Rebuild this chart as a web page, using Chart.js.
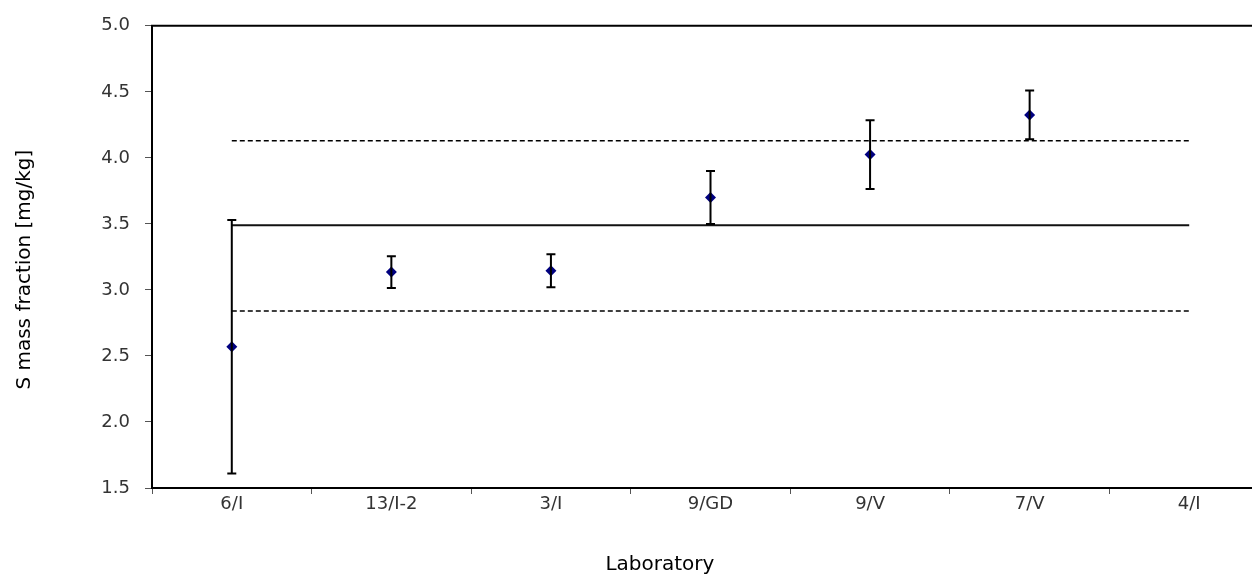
<!DOCTYPE html>
<html>
<head>
<meta charset="utf-8">
<script src="https://cdn.jsdelivr.net/npm/chart.js@4"></script>
<style>
  body { margin: 0; overflow: hidden; background: #fff; }
  #wrap { width: 1280px; height: 579px; }
</style>
</head>
<body>
<div id="wrap"><canvas id="myChart"></canvas></div>
<script>
// data
var labs = ['6/I', '13/I-2', '3/I', '9/GD', '9/V', '7/V', '4/I'];
var values = [2.57, 3.135, 3.145, 3.70, 4.025, 4.325, null];
var uncert = [0.96, 0.12, 0.125, 0.20, 0.26, 0.185, null];
var meanVal = 3.49;
var upperVal = 4.13;
var lowerVal = 2.84;
var yTicks = [1.5, 2.0, 2.5, 3.0, 3.5, 4.0, 4.5, 5.0];

var fontFam = '"DejaVu Sans", sans-serif';

function constLine(v) {
    return labs.map(function () { return v; });
}

// error bars + top frame line
var errorBars = {
    id: 'errorBars',
    afterDatasetsDraw: function (chart) {
        var ctx = chart.ctx;
        var xs = chart.scales.x, ys = chart.scales.y;
        var area = chart.chartArea;
        ctx.save();
        ctx.strokeStyle = '#000';
        ctx.lineWidth = 2;
        ctx.beginPath();
        ctx.moveTo(area.left - 1, area.top);
        ctx.lineTo(area.right, area.top);
        ctx.stroke();
        values.forEach(function (v, i) {
            if (v == null) return;
            var x = xs.getPixelForValue(i);
            var yt = ys.getPixelForValue(v + uncert[i]);
            var yb = ys.getPixelForValue(v - uncert[i]);
            ctx.beginPath();
            ctx.moveTo(x, yt); ctx.lineTo(x, yb);
            ctx.moveTo(x - 4.5, yt); ctx.lineTo(x + 4.5, yt);
            ctx.moveTo(x - 4.5, yb); ctx.lineTo(x + 4.5, yb);
            ctx.stroke();
        });
        ctx.restore();
    }
};

var ctx = document.getElementById('myChart');
var config = {
    type: 'line',
    data: {
        labels: labs,
        datasets: [{
            label: 'upper',
            data: constLine(upperVal),
            borderColor: '#000',
            borderWidth: 1.5,
            borderDash: [5, 3],
            pointRadius: 0
        }, {
            label: 'mean',
            data: constLine(meanVal),
            borderColor: '#111',
            borderWidth: 2,
            pointRadius: 0
        }, {
            label: 'lower',
            data: constLine(lowerVal),
            borderColor: '#000',
            borderWidth: 1.5,
            borderDash: [5, 3],
            pointRadius: 0
        }, {
            label: 'S',
            data: values,
            showLine: false,
            pointStyle: 'rectRot',
            pointRadius: 5.5,
            backgroundColor: '#000080',
            borderColor: '#000080',
            borderWidth: 0,
            order: -1
        }]
    },
    options: {
        responsive: true,
        maintainAspectRatio: false,
        animation: false,
        layout: { padding: { top: 23, right: 11, left: 0, bottom: 0 } },
        plugins: {
            legend: { display: false },
            tooltip: { enabled: false },
            title: {
                display: true,
                position: 'bottom',
                text: '        Laboratory',
                color: '#000',
                font: { family: fontFam, size: 20, weight: 'normal' },
                padding: { top: 0, bottom: 2 }
            }
        },
        scales: {
            x: {
                offset: true,
                grid: { display: true, offset: true, drawOnChartArea: false, tickLength: 6, color: '#555', lineWidth: 1 },
                border: { display: true, color: '#000', width: 2 },
                ticks: { color: '#333', padding: 0, font: { family: fontFam, size: 18 }, maxRotation: 0 },
                afterFit: function (scale) { scale.height = 65; }
            },
            y: {
                min: 1.5,
                max: 5.0,
                afterBuildTicks: function (scale) {
                    scale.ticks = yTicks.map(function (v) { return { value: v }; });
                },
                grid: { drawOnChartArea: false, tickLength: 7, color: '#555', lineWidth: 1 },
                border: { display: true, color: '#000', width: 2 },
                ticks: {
                    color: '#333', padding: 15, font: { family: fontFam, size: 18 },
                    callback: function (v) { return Number(v).toFixed(1); }
                },
                title: { display: true, text: 'S mass fraction [mg/kg]    ', color: '#000', font: { family: fontFam, size: 20 }, padding: { top: 13, bottom: 0 } },
                afterFit: function (scale) { scale.width = 152; }
            }
        }
    },
    plugins: [errorBars]
};
var currentChart = new Chart(ctx, config);
</script>
</body>
</html>
